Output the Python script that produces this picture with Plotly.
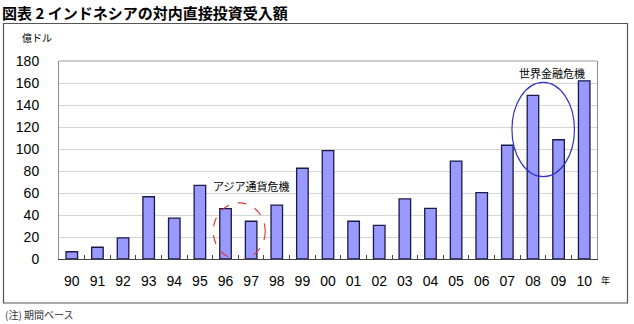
import plotly.graph_objects as go

years = ["90", "91", "92", "93", "94", "95", "96", "97", "98", "99", "00",
         "01", "02", "03", "04", "05", "06", "07", "08", "09", "10"]
fdi = [6.6, 10.7, 19.2, 56.6, 37.2, 67.0, 45.8, 34.3, 49.0, 82.5, 98.6,
       34.3, 30.6, 54.6, 46.0, 89.0, 60.4, 103.4, 148.8, 108.4, 162.0]
y_ticks = [0, 20, 40, 60, 80, 100, 120, 140, 160, 180]

JP = "Noto Sans CJK JP"
NUM = "Liberation Sans"

L, R, T, B = 59, 37, 61, 65
W, H = 634, 324
pw, ph = W - L - R, H - T - B


def px_x(p):
    return (p - L) / pw


def px_y(p):
    return (H - B - p) / ph


fig = go.Figure()
fig.add_trace(go.Bar(
    x=years, y=fdi, width=0.45,
    marker=dict(color="#9999ff", line=dict(color="#1a1a4a", width=1.3)),
    showlegend=False,
))

fig.update_layout(
    width=W, height=H,
    margin=dict(l=L, r=R, t=T, b=B),
    paper_bgcolor="white", plot_bgcolor="white",
    font=dict(family=NUM, color="black"),
    xaxis=dict(
        type="category", showgrid=False, showline=True, linecolor="#444444", linewidth=1,
        ticks="inside", tickson="boundaries", ticklen=4, tickcolor="#444444",
        tickfont=dict(family=NUM, size=14, color="black"), ticklabelstandoff=9,
        range=[-0.5, len(years) - 0.5],
    ),
    yaxis=dict(
        range=[0, 180], tickvals=y_ticks, showgrid=True, gridcolor="#d4d4d4",
        showline=True, linecolor="#8c8c8c", linewidth=1, mirror=True, ticks="",
        tickfont=dict(family=NUM, size=14, color="black"), ticklabelstandoff=16,
        zeroline=False,
    ),
)

# outer frame
fig.add_shape(type="rect", xref="paper", yref="paper",
              x0=px_x(3.5), x1=px_x(627.5), y0=px_y(303), y1=px_y(23.5),
              line=dict(color="#555555", width=1.2), fillcolor="rgba(0,0,0,0)", layer="below")
# top frame line of plot
fig.add_shape(type="line", xref="paper", yref="paper", x0=0, x1=1, y0=1, y1=1,
              line=dict(color="#9a9a9a", width=1))

# crisis ellipses
fig.add_shape(type="circle", xref="x", yref="y", x0=5.52, x1=7.55, y0=-0.5, y1=51,
              line=dict(color="#e03030", width=1.1, dash="dash"))
fig.add_shape(type="circle", xref="x", yref="y", x0=17.18, x1=19.62, y0=74.8, y1=160.6,
              line=dict(color="#3030c8", width=1.2))

fig.add_annotation(text="アジア通貨危機", x=7.0, y=66, xref="x", yref="y",
                   showarrow=False, font=dict(family=JP, size=11, color="black"))
fig.add_annotation(text="世界金融危機", x=18.75, y=169, xref="x", yref="y",
                   showarrow=False, font=dict(family=JP, size=11, color="black"))

# title & labels
fig.add_annotation(text="<b>図表 2 インドネシアの対内直接投資受入額</b>", xref="paper", yref="paper",
                   x=px_x(0), y=px_y(0), xanchor="left", yanchor="top", showarrow=False,
                   font=dict(family=JP, size=15, color="black"))
fig.add_annotation(text="億ドル", xref="paper", yref="paper",
                   x=px_x(20), y=px_y(37), xanchor="left", yanchor="middle", showarrow=False,
                   font=dict(family=JP, size=10, color="black"))
fig.add_annotation(text="年", xref="paper", yref="paper",
                   x=px_x(605), y=px_y(280), xanchor="center", yanchor="middle", showarrow=False,
                   font=dict(family=JP, size=9, color="black"))
fig.add_annotation(text="(注) 期間ベース", xref="paper", yref="paper",
                   x=px_x(3), y=px_y(324), xanchor="left", yanchor="bottom", showarrow=False,
                   font=dict(family=JP, size=10, color="#333333"))

fig.write_html("out.html")
